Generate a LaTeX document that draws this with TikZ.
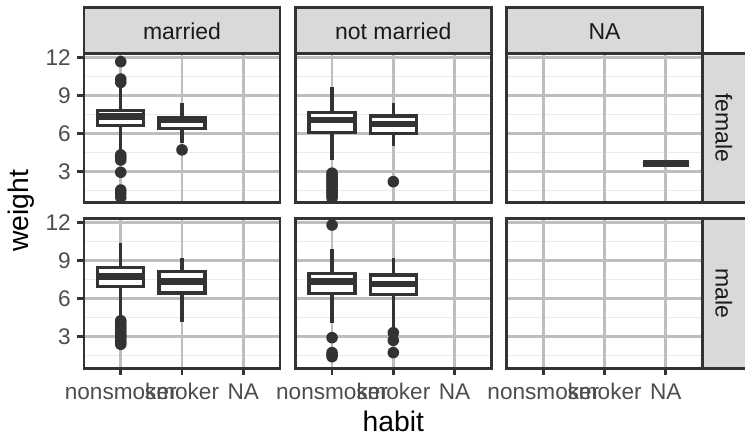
\documentclass[tikz,border=0pt]{standalone}
\usepackage{fontspec}
\setmainfont{Liberation Sans}
\definecolor{gtwenty}{HTML}{333333}
\definecolor{gthirty}{HTML}{4D4D4D}
\definecolor{gten}{HTML}{1A1A1A}
\definecolor{gmajor}{HTML}{BEBEBE}
\definecolor{gminor}{HTML}{EBEBEB}
\definecolor{stripbg}{HTML}{D9D9D9}
\tikzset{
 panelborder/.style={draw=gtwenty, line width=2.8pt},
 stripbox/.style={draw=gtwenty, line width=2.8pt, fill=stripbg},
 majorgrid/.style={draw=gmajor, line width=2.8pt},
 minorgrid/.style={draw=gminor, line width=1.4pt},
 whisk/.style={draw=gtwenty, line width=3.3pt},
 boxline/.style={draw=gtwenty, line width=3.3pt, fill=white},
 medline/.style={draw=gtwenty, line width=6.8pt},
 outlier/.style={fill=gtwenty},
 tickmark/.style={draw=gtwenty, line width=2.8pt},
 ticklab/.style={text=gthirty, font=\fontsize{22.6}{26}\selectfont, inner sep=0pt},
 striplab/.style={text=gten, font=\fontsize{23}{27}\selectfont, inner sep=0pt},
 axtitle/.style={text=black, font=\fontsize{28.3}{32}\selectfont, inner sep=0pt},
}
\newcommand{\bxp}[6]{%
 \draw[whisk] (#1,#2) -- (#1,#3);
 \draw[whisk] (#1,#5) -- (#1,#6);
 \draw[boxline] (#1-0.375,#3) rectangle (#1+0.375,#5);
 \draw[medline] (#1-0.375,#4) -- (#1+0.375,#4);
}
\newcommand{\outl}[2]{\foreach \ov in {#2} {\fill[outlier] (#1,\ov) circle[radius=5.8pt];}}
\begin{document}
\begin{tikzpicture}[x=1pt, y=-1pt]
\useasboundingbox (0,0) rectangle (745,435);
\fill[white] (0,0) rectangle (745,435);
% grids
\foreach \cx in {84,295.3,506.6} {
 \foreach \ry in {209.3,374.8} {
  \begin{scope}[xshift={(\cx-24.5)*1pt}, yshift={-\ry*1pt}, x=61.25pt, y=12.67pt]
   \foreach \v in {1.5,4.5,7.5,10.5} \draw[minorgrid] (0.4,\v) -- (3.6,\v);
   \foreach \v in {3,6,9,12} \draw[majorgrid] (0.4,\v) -- (3.6,\v);
   \foreach \k in {1,2,3} \draw[majorgrid] (\k,0.52) -- (\k,12.32);
  \end{scope}
 }
}
% female, married
\begin{scope}[xshift={(84-24.5)*1pt}, yshift={-209.3pt}, x=61.25pt, y=12.67pt]
 \bxp{1}{4.55}{6.63}{7.31}{7.78}{9.55}
 \outl{1}{11.65,10.28,10.02,4.29,4.1,3.89,2.92,1.52,1.26,0.95}
 \bxp{2}{5.2}{6.39}{7.1}{7.23}{8.37}
 \outl{2}{4.69}
\end{scope}
% female, not married
\begin{scope}[xshift={(295.3-24.5)*1pt}, yshift={-209.3pt}, x=61.25pt, y=12.67pt]
 \bxp{1}{3.89}{6.08}{7.05}{7.65}{9.63}
 \outl{1}{2.85,2.7,2.55,2.4,2.25,2.1,1.95,1.8,1.65,1.5,1.35,1.2,1.05,0.9}
 \bxp{2}{5.0}{6.0}{6.73}{7.36}{8.37}
 \outl{2}{2.18}
\end{scope}
% female, NA
\begin{scope}[xshift={(506.6-24.5)*1pt}, yshift={-209.3pt}, x=61.25pt, y=12.67pt]
 \bxp{3}{3.63}{3.63}{3.63}{3.63}{3.63}
\end{scope}
% male, married
\begin{scope}[xshift={(84-24.5)*1pt}, yshift={-374.8pt}, x=61.25pt, y=12.67pt]
 \bxp{1}{4.5}{6.95}{7.74}{8.45}{10.43}
 \outl{1}{4.27,4.12,3.9,3.7,3.5,3.3,3.12,2.95,2.75,2.55,2.41}
 \bxp{2}{4.19}{6.46}{7.38}{8.14}{9.19}
\end{scope}
% male, not married
\begin{scope}[xshift={(295.3-24.5)*1pt}, yshift={-374.8pt}, x=61.25pt, y=12.67pt]
 \bxp{1}{4.06}{6.43}{7.38}{8.01}{9.91}
 \outl{1}{11.82,2.93,1.75,1.6,1.43}
 \bxp{2}{3.8}{6.35}{7.17}{7.88}{9.19}
 \outl{2}{3.32,2.72,1.75}
\end{scope}
% panel borders
\foreach \cx in {84,295.3,506.6} {
 \foreach \rt in {53.2,218.7} {
  \draw[panelborder] (\cx,\rt) rectangle (\cx+196,\rt+149.5);
 }
}
% top strips
\draw[stripbox] (84,7.5) rectangle (280,53.2);
\draw[stripbox] (295.3,7.5) rectangle (491.3,53.2);
\draw[stripbox] (506.6,7.5) rectangle (702.6,53.2);
\node[striplab, anchor=base] (s-married) at (182,39.3) {married};
\node[striplab, anchor=base] (s-notmarried) at (393.3,39.3) {not married};
\node[striplab, anchor=base] (s-na) at (604.6,39.3) {NA};
% right strips
\draw[stripbox] (702.6,53.2) rectangle (748.5,202.7);
\draw[stripbox] (702.6,218.7) rectangle (748.5,368.2);
\node[striplab, anchor=base, rotate=-90] (s-female) at (715.5,127.95) {female};
\node[striplab, anchor=base, rotate=-90] (s-male) at (715.5,293.45) {male};
% y ticks and labels
\foreach \ry/\rn in {209.3/a,374.8/b} {
 \foreach \v in {3,6,9,12} {
  \draw[tickmark] (76.8,\ry-12.67*\v) -- (84,\ry-12.67*\v);
  \node[ticklab, anchor=east] (yl-\rn-\v) at (71,\ry-12.67*\v) {\v};
 }
}
% x ticks and labels
\foreach \cx/\cn in {84/a,295.3/b,506.6/c} {
 \foreach \k/\lab in {1/nonsmoker,2/smoker,3/NA} {
  \draw[tickmark] (\cx-24.5+61.25*\k,368.2) -- (\cx-24.5+61.25*\k,375.4);
  \node[ticklab, anchor=base] (xl-\cn-\k) at (\cx-24.5+61.25*\k,399.3) {\lab};
 }
}
% axis titles
\node[axtitle, rotate=90] (ytitle) at (21.5,210.7) {weight};
\node[axtitle, anchor=base] (xtitle) at (393.3,431.3) {habit};
\end{tikzpicture}
\end{document}
